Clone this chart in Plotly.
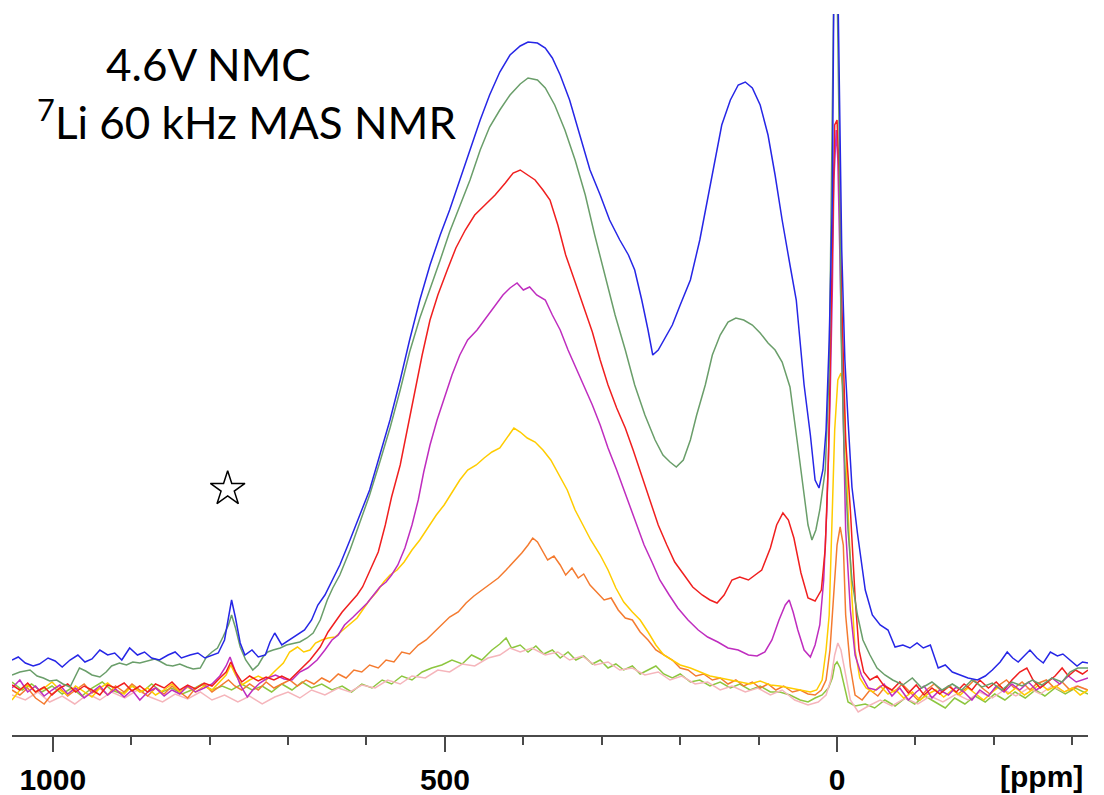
import plotly.graph_objects as go

# ---------------- data (chemical shift in ppm, intensity in arbitrary units) ----------------
blue_ppm = [1052,1044,1035,1025,1017,1006,997,988,978,968,959,950,940,930,921,912,902,892,883,874,864,853,844,836,825,815,806,797,789,781,776,772,767,761,755,746,738,729,723,717,708,698,688,679,670,662,653,643,634,621,608,596,583,570,557,545,532,519,506,494,481,468,455,443,430,417,404,394,382,372,363,353,341,328,315,302,290,277,266,258,249,241,235,228,219,210,200,187,175,164,156,147,136,126,117,108,98,88,79,70,60,52,42,34,28,23,18,14,10,6,4,-1,-6,-10,-14,-19,-26,-36,-45,-55,-65,-74,-84,-93,-102,-110,-119,-129,-138,-147,-157,-167,-179,-189,-198,-208,-217,-224,-231,-240,-246,-255,-263,-272,-281,-288,-297,-306,-313,-320]
blue_int = [75,78,72,69,71,77,74,68,75,80,73,76,85,80,82,75,87,80,83,77,75,80,83,77,80,82,77,80,82,95,117,135,117,92,80,85,78,80,93,102,90,95,100,105,115,130,140,155,170,195,220,245,280,315,355,395,435,470,500,525,555,585,615,640,663,680,689,693,692,687,677,660,635,600,565,540,515,495,480,465,435,405,380,385,397,410,430,455,495,540,575,610,635,650,653,647,630,600,560,515,470,435,350,300,255,247,265,305,395,535,755,755,485,375,315,248,202,145,120,110,105,88,90,87,92,87,90,67,70,63,60,57,55,59,65,73,83,77,73,80,85,77,72,83,79,81,75,69,73,72]

green_ppm = [1052,1042,1029,1020,1012,1004,995,987,978,971,966,958,950,940,932,925,915,906,898,889,880,870,864,855,847,838,829,821,812,804,797,790,783,776,772,767,761,754,745,738,732,726,719,710,702,693,685,676,668,659,650,643,634,621,608,596,583,570,557,545,532,519,506,494,481,468,455,443,430,417,404,394,382,372,360,347,334,321,309,296,283,270,258,245,232,222,213,205,196,187,179,168,159,149,139,129,119,108,98,88,79,70,60,51,43,37,32,27,22,15,10,6,4,0,-3,-5,-9,-14,-19,-26,-33,-42,-51,-61,-71,-84,-96,-108,-121,-134,-147,-159,-172,-185,-198,-210,-223,-236,-249,-261,-274,-287,-297,-307,-320]
green_int = [60,63,65,59,57,54,55,51,48,60,67,64,60,58,63,69,72,70,73,72,74,76,74,70,69,71,68,66,67,78,83,87,98,110,120,107,88,75,65,70,78,83,85,87,90,92,93,97,102,115,135,147,160,185,213,240,273,307,345,383,417,445,475,503,530,555,585,608,625,640,651,657,655,647,630,605,575,540,500,460,420,385,350,320,295,280,273,268,275,295,320,350,380,400,413,417,415,410,402,392,385,373,348,295,245,210,195,205,225,265,365,585,755,755,585,405,285,205,155,120,95,80,67,60,55,50,57,47,53,45,51,45,55,48,52,45,53,49,55,50,57,53,63,67,67]

red_ppm = [1052,1042,1032,1022,1011,1001,991,981,971,960,950,940,930,920,909,899,889,879,869,858,848,838,828,818,807,797,787,779,773,767,759,749,738,728,718,708,698,685,672,659,649,640,631,621,612,605,596,585,576,568,557,547,538,529,519,509,497,486,474,462,449,436,423,413,404,395,385,375,366,356,346,334,324,312,302,292,281,270,260,249,239,228,217,207,195,184,172,162,153,144,134,124,113,105,96,85,77,69,62,55,46,37,28,20,15,11,8,5,3,0,-3,-6,-11,-17,-23,-28,-34,-42,-51,-60,-70,-80,-91,-101,-111,-121,-131,-142,-152,-162,-172,-182,-193,-203,-213,-223,-233,-242,-250,-259,-268,-278,-287,-295,-304,-313,-320]
red_int = [50,45,52,43,48,40,47,51,43,49,45,40,50,47,52,44,49,43,51,47,53,45,50,46,52,49,57,63,73,63,53,59,54,58,55,59,55,65,75,88,103,113,123,132,140,148,163,183,210,238,270,310,345,380,415,440,465,487,505,520,530,540,552,562,565,560,555,545,535,510,480,453,430,403,375,350,327,307,285,260,235,210,190,173,160,148,140,135,132,140,155,158,155,160,165,187,210,222,215,197,162,137,134,145,187,275,395,505,610,615,555,435,295,225,138,85,63,55,59,49,45,53,42,50,40,47,41,49,43,51,45,55,47,53,45,55,63,67,55,47,53,59,67,59,65,61,65]

magenta_ppm = [1052,1042,1032,1022,1011,1001,991,981,971,960,950,940,930,920,909,899,889,879,869,858,848,838,828,818,807,797,787,779,774,769,761,752,745,736,726,716,705,695,685,675,663,653,644,636,628,617,608,599,591,583,575,568,560,551,542,534,527,519,510,501,491,481,471,459,448,436,426,417,408,400,392,383,372,363,353,343,333,323,312,302,292,281,269,258,246,236,226,214,203,190,177,165,152,139,126,113,102,92,83,74,66,61,56,50,42,34,28,22,17,13,9,6,4,1,-1,-4,-8,-11,-17,-23,-31,-40,-50,-60,-70,-80,-91,-101,-111,-121,-131,-142,-152,-162,-172,-182,-193,-203,-213,-223,-233,-244,-254,-264,-274,-284,-295,-305,-320]
magenta_int = [47,55,43,49,39,45,50,41,47,37,43,49,40,46,38,45,35,43,47,39,45,41,49,43,47,51,59,69,78,67,50,38,45,52,57,60,56,55,63,67,75,85,95,100,110,118,125,132,140,148,153,160,170,187,210,235,263,290,315,337,360,380,395,405,417,430,440,447,452,445,448,440,435,420,405,385,367,350,330,310,287,265,240,215,190,173,155,140,127,115,105,98,93,87,85,80,79,83,95,115,130,135,123,105,85,78,90,110,155,225,330,445,555,605,575,465,315,205,125,80,60,47,45,51,39,47,35,43,49,37,45,40,48,43,35,45,39,49,43,51,45,53,45,50,57,51,59,53,57]

yellow_ppm = [1052,1042,1032,1022,1011,1001,991,981,971,960,950,940,930,920,909,899,889,879,869,858,848,838,828,818,807,797,787,779,773,767,759,749,738,728,718,706,698,688,680,672,665,657,649,640,630,621,612,605,596,587,578,570,561,552,542,532,522,511,501,491,481,471,460,450,440,430,421,412,404,395,385,375,365,355,344,334,324,314,302,292,282,272,261,251,241,231,221,210,200,187,175,162,149,136,124,111,98,85,73,60,47,34,26,19,14,10,6,3,-1,-5,-8,-10,-14,-19,-23,-29,-37,-46,-55,-65,-75,-85,-96,-106,-116,-126,-136,-147,-157,-167,-177,-187,-198,-208,-218,-228,-239,-249,-259,-269,-279,-290,-300,-310,-320]
yellow_int = [35,45,50,43,47,53,45,40,49,43,38,47,52,45,41,49,43,47,40,45,51,43,48,43,49,45,53,60,70,60,50,55,59,55,63,72,83,88,83,85,92,95,97,98,105,111,117,125,135,143,153,160,165,173,185,195,207,220,230,243,255,265,270,277,283,287,297,307,303,297,293,285,275,260,245,225,210,195,180,165,147,133,123,115,103,90,80,75,70,67,63,59,57,55,53,51,54,50,49,47,45,43,45,55,85,120,225,305,355,362,345,315,225,138,85,57,47,43,49,41,45,37,43,35,41,45,38,45,40,47,41,35,43,49,41,47,40,45,51,45,49,43,47,40,45]

orange_ppm = [1052,1042,1032,1022,1011,1001,991,981,971,960,950,940,930,920,909,899,889,879,869,858,848,838,828,818,807,797,787,776,768,759,749,738,728,718,708,698,688,677,667,657,647,636,626,616,606,596,585,575,565,555,545,534,524,514,504,494,483,473,463,453,443,432,422,412,402,394,388,382,375,369,361,353,346,338,330,323,315,306,297,288,279,270,261,251,241,231,221,210,200,190,180,170,159,149,139,129,119,108,98,88,78,68,57,47,37,28,20,14,9,4,0,-4,-8,-11,-17,-23,-32,-42,-52,-62,-73,-83,-93,-103,-114,-124,-134,-144,-154,-165,-175,-185,-195,-205,-216,-226,-236,-246,-254,-267,-277,-287,-297,-307,-320]
orange_int = [45,40,47,37,31,41,47,39,45,51,42,47,40,49,43,51,45,39,47,41,49,43,37,47,51,43,49,55,49,45,51,45,53,47,51,55,49,55,51,57,53,61,57,65,63,70,67,75,73,83,81,90,95,103,110,118,123,132,139,145,151,157,165,173,182,190,197,193,183,175,179,170,160,167,157,161,150,143,135,137,125,117,115,103,95,85,80,75,67,65,59,61,55,57,51,55,49,53,47,51,45,49,43,45,41,40,45,55,85,145,190,208,190,120,68,40,35,45,39,49,43,51,43,35,45,51,43,49,41,47,55,47,41,49,55,47,53,45,51,55,47,53,45,49,45]

pink_ppm = [1052,1035,1019,1004,988,972,955,940,925,908,892,876,860,844,828,812,797,781,764,749,733,717,700,685,670,653,636,621,606,589,573,557,542,525,509,494,478,462,445,430,417,404,389,372,356,341,325,309,292,277,261,245,228,213,198,181,165,149,134,117,101,85,70,54,37,24,14,8,3,-1,-5,-10,-17,-27,-40,-55,-70,-87,-103,-119,-135,-152,-167,-182,-198,-213,-228,-244,-259,-274,-290,-305,-320]
pink_int = [40,35,43,33,39,31,41,35,43,37,45,38,33,41,36,43,35,40,33,39,31,38,43,37,45,40,47,43,50,47,55,51,59,57,65,63,71,69,77,80,87,83,87,80,83,75,79,70,73,65,67,60,63,55,59,51,53,45,49,43,47,40,45,35,30,33,40,55,80,92,85,64,35,23,29,35,29,37,31,39,33,41,35,43,37,45,39,47,41,49,43,49,45]

lime_ppm = [1052,1039,1027,1014,1001,988,976,963,950,937,925,912,899,886,874,861,848,835,823,810,797,784,772,759,746,733,721,708,695,682,670,657,644,631,619,606,593,580,568,555,542,529,517,504,491,478,466,453,440,430,422,415,404,394,384,374,363,353,343,333,323,312,302,292,282,272,261,251,241,231,221,210,200,187,175,162,149,136,124,111,98,85,73,60,47,37,28,19,11,6,3,0,-4,-9,-14,-23,-36,-48,-61,-74,-87,-99,-112,-125,-138,-150,-163,-176,-189,-201,-214,-227,-240,-253,-265,-278,-291,-304,-320]
lime_int = [53,45,51,43,49,41,47,39,47,53,45,41,49,43,51,43,47,41,45,51,45,49,45,51,45,49,43,51,45,53,47,51,45,49,43,51,47,55,51,59,55,63,67,70,75,71,80,75,85,91,97,87,90,83,89,81,85,77,83,75,79,71,75,67,71,65,69,61,65,69,61,57,61,53,55,49,53,47,51,45,49,43,43,40,35,33,37,40,47,57,70,73,67,50,33,29,31,27,35,29,37,31,39,33,27,37,31,39,33,41,35,43,37,45,39,47,41,47,41]

# spinning-sideband marker (star) position
star_ppm = [777]
star_int = [246]

# axis ticks
major_tick_vals = [1000, 500, 0]
major_tick_text = ["1000", "500", "0"]
minor_tick_vals = [900, 800, 700, 600, 400, 300, 200, 100, -100, -200, -300]

series = [
    ("lime", lime_ppm, lime_int, "#8dc63f"),
    ("pink", pink_ppm, pink_int, "#f5b5bb"),
    ("orange", orange_ppm, orange_int, "#f47b30"),
    ("yellow", yellow_ppm, yellow_int, "#ffcc00"),
    ("magenta", magenta_ppm, magenta_int, "#bf2dbf"),
    ("red", red_ppm, red_int, "#f01f1f"),
    ("green", green_ppm, green_int, "#6a9e6a"),
    ("blue", blue_ppm, blue_int, "#2626e6"),
]

fig = go.Figure()
for name, xs, ys, col in series:
    fig.add_trace(go.Scatter(x=xs, y=ys, mode="lines", name=name,
                             line=dict(color=col, width=1.5),
                             showlegend=False, hoverinfo="skip"))

fig.add_trace(go.Scatter(x=star_ppm, y=star_int, mode="markers", showlegend=False,
                         hoverinfo="skip",
                         marker=dict(symbol="star-open", size=26, color="black",
                                     line=dict(color="black", width=1.5))))

axis_font = dict(family="Liberation Sans", size=30, color="black", weight="bold")

fig.update_layout(
    width=1104, height=795,
    margin=dict(l=12, r=16, t=14, b=60, autoexpand=False),
    paper_bgcolor="white", plot_bgcolor="white",
    xaxis=dict(range=[1052, -320], showgrid=False, zeroline=False, automargin=False,
               showline=True, linecolor="#4a4a4a", linewidth=2,
               ticks="outside", ticklen=15, tickwidth=2, tickcolor="#4a4a4a",
               tickvals=major_tick_vals, ticktext=major_tick_text,
               tickfont=axis_font, ticklabelstandoff=2,
               minor=dict(tickvals=minor_tick_vals, ticks="outside", ticklen=8,
                          tickwidth=1.5, tickcolor="#4a4a4a", showgrid=False)),
    yaxis=dict(range=[0, 721], visible=False, showgrid=False, zeroline=False,
               automargin=False),
    annotations=[
        dict(text="4.6V NMC", xref="paper", yref="paper", x=0.183, y=0.931,
             xanchor="center", yanchor="middle", showarrow=False,
             font=dict(family="Lato, Open Sans", size=44, color="black")),
        dict(text="<sup>7</sup>Li 60 kHz MAS NMR", xref="paper", yref="paper", x=0.2175, y=0.853,
             xanchor="center", yanchor="middle", showarrow=False,
             font=dict(family="Lato, Open Sans", size=44, color="black")),
        dict(text="[ppm]", xref="paper", yref="paper", x=0.997, y=-0.058,
             xanchor="right", yanchor="middle", showarrow=False,
             font=axis_font),
    ],
)

fig.write_html("out.html")
